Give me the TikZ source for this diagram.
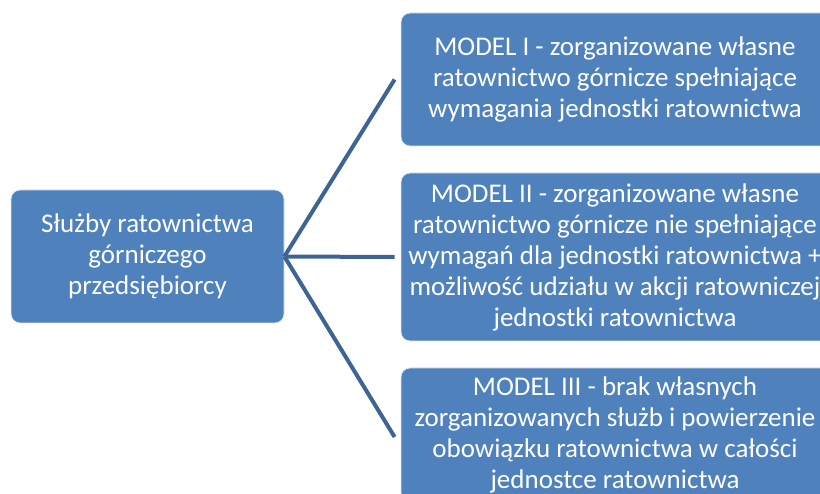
\documentclass[tikz,border=0pt]{standalone}
\usepackage{fontspec}
\setmainfont{Carlito}
\definecolor{boxblue}{RGB}{79,129,189}
\definecolor{linkblue}{RGB}{62,100,148}
\begin{document}
\begin{tikzpicture}[x=1pt,y=-1pt,
  box/.style={rectangle, rounded corners=9pt, fill=boxblue, draw=white!80!boxblue, line width=0.8pt,
    text=white, align=center, font=\fontsize{27}{31}\selectfont, inner sep=0pt},
  link/.style={draw=linkblue, line width=4pt}]
\useasboundingbox (0,0) rectangle (820,494);
\begin{scope}
\clip (0,0) rectangle (820,494);
\node[box, minimum width=273pt, minimum height=133pt] (src) at (147.5,256.5)
  {Służby ratownictwa\\górniczego\\przedsiębiorcy};
\node[box, minimum width=428pt, minimum height=133pt] (m1) at (615,79.5)
  {MODEL I - zorganizowane własne\\ratownictwo górnicze spełniające\\wymagania jednostki ratownictwa};
\node[box, minimum width=428pt, minimum height=168pt] (m2) at (615,257)
  {MODEL II - zorganizowane własne\\ratownictwo górnicze nie spełniające\\wymagań dla jednostki ratownictwa +\\możliwość udziału w akcji ratowniczej\\jednostki ratownictwa};
\node[box, minimum width=428pt, minimum height=134pt] (m3) at (615,435)
  {MODEL III - brak własnych\\zorganizowanych służb i powierzenie\\obowiązku ratownictwa w całości\\jednostce ratownictwa};
\coordinate (e1) at ([xshift=-6pt]m1.west);
\coordinate (e2) at ([xshift=-6pt]m2.west);
\coordinate (e3) at ([xshift=-6pt,yshift=-2pt]m3.west);
\draw[link] (src.east) -- (e1);
\draw[link] (src.east) -- (e2);
\draw[link] (src.east) -- (e3);
\end{scope}
\end{tikzpicture}
\end{document}
